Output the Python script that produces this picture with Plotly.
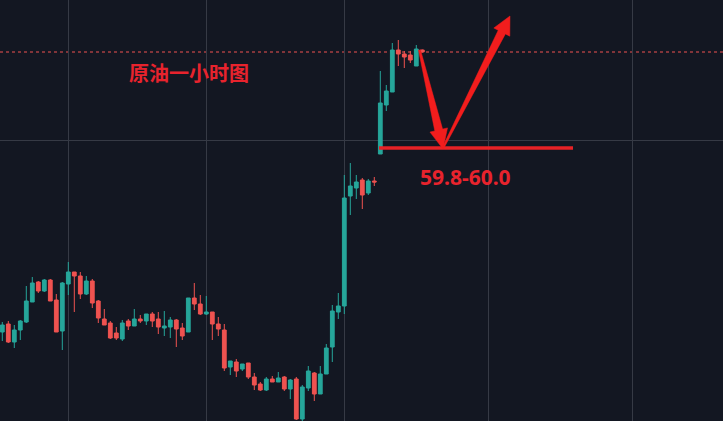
import plotly.graph_objects as go

# ---- data ----
opens = [58.06, 58.14, 57.96, 58.08, 58.16, 58.36, 58.56, 58.47, 58.58, 58.38,
         58.07, 58.54, 58.66, 58.62, 58.44, 58.57, 58.37, 58.19, 58.15, 58.05,
         57.99, 58.17, 58.12, 58.19, 58.17, 58.24, 58.19, 58.10, 58.11, 58.18,
         58.10, 58.06, 58.40, 58.34, 58.24, 58.26, 58.14, 58.08, 57.71, 57.76,
         57.69, 57.75, 57.61, 57.54, 57.48, 57.59, 57.56, 57.61, 57.49, 57.59,
         57.19, 57.50, 57.65, 57.44, 57.64, 57.91, 58.26, 58.32, 59.42, 59.50,
         59.58, 59.45, 59.57, 59.84, 60.33, 60.46, 60.88, 60.84, 60.83, 60.72,
         60.88]
highs = [58.16, 58.17, 58.13, 58.18, 58.52, 58.61, 58.57, 58.59, 58.59, 58.44,
         58.56, 58.76, 58.66, 58.66, 58.62, 58.59, 58.38, 58.29, 58.17, 58.11,
         58.18, 58.19, 58.29, 58.23, 58.24, 58.26, 58.26, 58.27, 58.21, 58.19,
         58.15, 58.40, 58.55, 58.43, 58.42, 58.26, 58.21, 58.14, 57.77, 57.79,
         57.74, 57.75, 57.65, 57.56, 57.61, 57.62, 57.66, 57.62, 57.59, 57.61,
         57.53, 57.72, 57.66, 57.72, 57.94, 58.33, 58.45, 59.63, 59.75, 59.63,
         59.60, 59.59, 59.61, 60.67, 60.53, 60.95, 60.98, 60.87, 60.87, 60.93,
         60.885]
lows = [57.97, 57.95, 57.90, 57.98, 58.15, 58.36, 58.45, 58.46, 58.37, 58.06,
        57.88, 58.43, 58.26, 58.39, 58.43, 58.30, 58.15, 58.13, 57.99, 57.98,
        57.97, 58.08, 58.12, 58.15, 58.13, 58.11, 58.04, 58.02, 58.00, 57.91,
        57.98, 58.06, 58.28, 58.23, 58.23, 57.98, 58.02, 57.67, 57.63, 57.61,
        57.67, 57.59, 57.48, 57.47, 57.47, 57.56, 57.56, 57.47, 57.39, 57.18,
        57.17, 57.47, 57.37, 57.44, 57.64, 57.76, 58.19, 58.24, 59.23, 59.39,
        59.29, 59.43, 59.52, 59.84, 60.27, 60.46, 60.72, 60.70, 60.75, 60.72,
        60.855]
closes = [58.13, 57.96, 58.08, 58.17, 58.37, 58.55, 58.47, 58.58, 58.37, 58.06,
          58.55, 58.66, 58.62, 58.44, 58.57, 58.35, 58.20, 58.13, 58.00, 58.00,
          58.15, 58.12, 58.19, 58.17, 58.24, 58.17, 58.11, 58.12, 58.18, 58.09,
          58.02, 58.40, 58.34, 58.24, 58.26, 58.14, 58.09, 57.70, 57.77, 57.67,
          57.74, 57.61, 57.53, 57.48, 57.59, 57.56, 57.60, 57.49, 57.58, 57.19,
          57.51, 57.67, 57.44, 57.64, 57.90, 58.27, 58.32, 59.40, 59.52, 59.56,
          59.43, 59.57, 59.56, 60.35, 60.47, 60.88, 60.84, 60.81, 60.78, 60.89,
          60.86]
bars = list(range(len(opens)))

last_price = 60.86
support_price = 59.90
support_label = "59.8-60.0"
title_text = "原油一小时图"
grid_bars = [11, 34, 57, 81, 105]
grid_price = [59.98]

W, H = 723, 421
BG = "#131722"
GRID = "#363a45"
UP = "#26a69a"
DOWN = "#ef5350"
RED = "#f21d1d"


def px(x, y):
    return x / W, 1 - y / H


def poly(points):
    pts = [px(x, y) for x, y in points]
    d = "M " + " L ".join(f"{a:.5f},{b:.5f}" for a, b in pts) + " Z"
    return dict(type="path", xref="paper", yref="paper", path=d,
                fillcolor=RED, line=dict(color=RED, width=0.5), layer="above")


fig = go.Figure()
fig.add_trace(go.Candlestick(
    x=bars, open=opens, high=highs, low=lows, close=closes,
    increasing=dict(line=dict(color=UP, width=1), fillcolor=UP),
    decreasing=dict(line=dict(color=DOWN, width=1), fillcolor=DOWN),
    whiskerwidth=0, hoverinfo="skip", showlegend=False,
))

shapes = []
shapes.append(dict(type="line", xref="paper", yref="y", x0=0, x1=1,
                   y0=last_price, y1=last_price,
                   line=dict(color=DOWN, width=1, dash="dot"), layer="below"))
shapes.append(dict(type="line", xref="paper", yref="y", x0=379 / W, x1=573 / W,
                   y0=support_price, y1=support_price,
                   line=dict(color="#e82226", width=3.5), layer="above"))
shapes.append(poly([(418.5, 50.2), (434.8, 130.9), (430.0, 132.1), (443.0, 149.0),
                    (447.5, 127.9), (442.6, 129.1), (420.5, 49.8)]))
shapes.append(poly([(442.3, 147.6), (498.2, 30.3), (493.8, 28.0), (510.0, 16.0),
                    (509.8, 36.2), (505.4, 33.9), (443.7, 148.4)]))

fig.update_layout(
    width=W, height=H,
    margin=dict(l=0, r=0, t=0, b=0),
    paper_bgcolor=BG, plot_bgcolor=BG,
    boxgap=0.1,
    shapes=shapes,
    showlegend=False,
    hovermode=False,
    annotations=[
        dict(text=title_text, xref="paper", yref="paper",
             x=189 / W, y=1 - 72 / H, xanchor="center", yanchor="middle",
             showarrow=False,
             font=dict(family="Noto Sans CJK SC", size=20, color="#e8232d", weight="bold")),
        dict(text=support_label, xref="paper", yref="paper",
             x=465 / W, y=1 - 177 / H, xanchor="center", yanchor="middle",
             showarrow=False,
             font=dict(family="Noto Sans, DejaVu Sans", size=21, color="#e8232d", weight="bold")),
    ],
)
fig.update_xaxes(range=[-2.3 / 6, (W - 2.3) / 6], rangeslider=dict(visible=False),
                 tickvals=grid_bars, showticklabels=False, showgrid=True,
                 gridcolor=GRID, gridwidth=1, zeroline=False, showline=False, ticks="")
fig.update_yaxes(range=[57.17, 61.38], tickvals=grid_price, showticklabels=False,
                 showgrid=True, gridcolor=GRID, gridwidth=1, zeroline=False,
                 showline=False, ticks="")

fig.write_html("out.html", config=dict(displayModeBar=False),
               post_script="document.body.style.margin='0';document.body.style.overflow='hidden';document.body.style.background='#131722';")
